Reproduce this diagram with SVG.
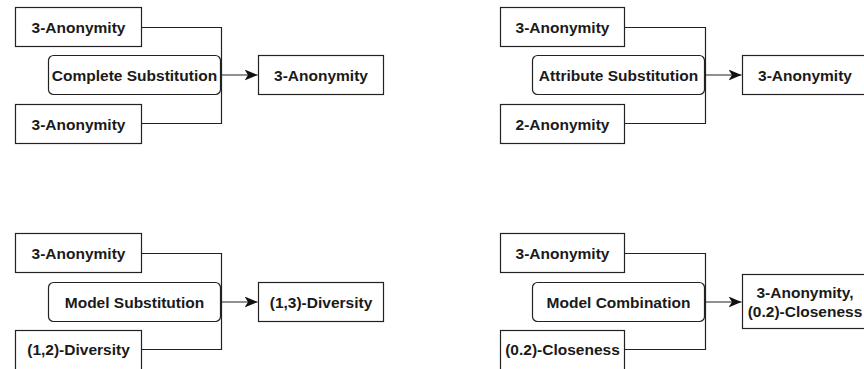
<svg xmlns="http://www.w3.org/2000/svg" width="864" height="369" viewBox="0 0 864 369">
<style>
.box{fill:#fff;stroke:#222;stroke-width:1.2}
.t{font-family:"Liberation Sans",Arial,sans-serif;font-weight:bold;font-size:15.5px;fill:#1a1a1a;text-anchor:middle}
.c{fill:none;stroke:#222;stroke-width:1.2}
</style>
<defs>
<marker id="ah" viewBox="0 0 13 11" refX="13" refY="5.5" markerWidth="13" markerHeight="11" markerUnits="userSpaceOnUse" orient="auto">
<path d="M0,0 L13,5.5 L0,11 L3.5,5.5 Z" fill="#111"/>
</marker>
</defs>
<rect width="864" height="369" fill="#fff"/>
<g id="connectors">
<path class="c" d="M141.5,27.5 H221.5 V123.5 H141.5"/>
<path class="c" d="M221.5,75 H257.5" marker-end="url(#ah)"/>
<path class="c" d="M624.5,27.5 H705.5 V123.5 H624.5"/>
<path class="c" d="M705.5,75 H741.5" marker-end="url(#ah)"/>
<path class="c" d="M141.5,253.5 H221.5 V349.5 H141.5"/>
<path class="c" d="M221.5,302 H257.5" marker-end="url(#ah)"/>
<path class="c" d="M624.5,253.5 H705.5 V349.5 H624.5"/>
<path class="c" d="M705.5,302 H741.5" marker-end="url(#ah)"/>
</g>
<g id="a1"><rect class="box" x="15.5" y="7.5" width="126" height="39"/><text class="t" x="78.5" y="32.5">3-Anonymity</text></g>
<g id="a2"><rect class="box" x="48.5" y="55.5" width="172" height="39" rx="5"/><text class="t" x="134.5" y="80.5">Complete Substitution</text></g>
<g id="a3"><rect class="box" x="15.5" y="104.5" width="126" height="39"/><text class="t" x="78.5" y="129.5">3-Anonymity</text></g>
<g id="a4"><rect class="box" x="258.5" y="55.5" width="125" height="39"/><text class="t" x="321" y="80.5">3-Anonymity</text></g>
<g id="b1"><rect class="box" x="500.5" y="7.5" width="124" height="39"/><text class="t" x="562.5" y="32.5">3-Anonymity</text></g>
<g id="b2"><rect class="box" x="532.5" y="55.5" width="172" height="39" rx="5"/><text class="t" x="618.5" y="80.5">Attribute Substitution</text></g>
<g id="b3"><rect class="box" x="500.5" y="104.5" width="124" height="39"/><text class="t" x="562.5" y="129.5">2-Anonymity</text></g>
<g id="b4"><rect class="box" x="742.5" y="55.5" width="125" height="39"/><text class="t" x="805" y="80.5">3-Anonymity</text></g>
<g id="c1"><rect class="box" x="15.5" y="233.5" width="126" height="39"/><text class="t" x="78.5" y="258.5">3-Anonymity</text></g>
<g id="c2"><rect class="box" x="48.5" y="282.5" width="172" height="39" rx="5"/><text class="t" x="134.5" y="307.5">Model Substitution</text></g>
<g id="c3"><rect class="box" x="15.5" y="330.5" width="126" height="40"/><text class="t" x="78.5" y="355">(1,2)-Diversity</text></g>
<g id="c4"><rect class="box" x="258.5" y="282.5" width="125" height="39"/><text class="t" x="321" y="307.5">(1,3)-Diversity</text></g>
<g id="d1"><rect class="box" x="500.5" y="233.5" width="124" height="39"/><text class="t" x="562.5" y="258.5">3-Anonymity</text></g>
<g id="d2"><rect class="box" x="532.5" y="282.5" width="172" height="39" rx="5"/><text class="t" x="618.5" y="307.5">Model Combination</text></g>
<g id="d3"><rect class="box" x="500.5" y="330.5" width="124" height="40"/><text class="t" x="562.5" y="355">(0.2)-Closeness</text></g>
<g id="d4"><rect class="box" x="742.5" y="274.5" width="125" height="54"/><text class="t" x="805" y="298">3-Anonymity,</text><text class="t" x="805" y="317">(0.2)-Closeness</text></g>
</svg>
